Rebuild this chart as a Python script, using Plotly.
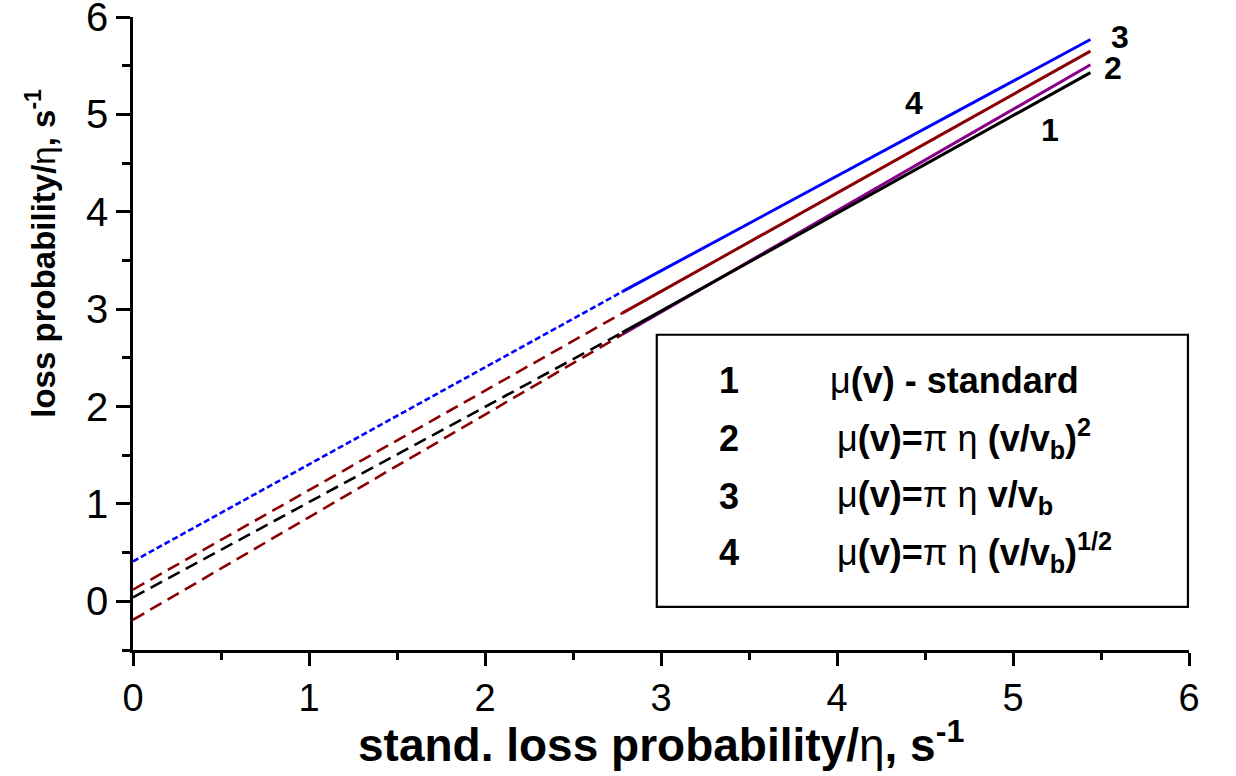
import plotly.graph_objects as go

# ---------------- data ----------------
# dashed / dotted extrapolations from x = 0 to the start of the computed curves
ext_x = [0.0, 2.78]
ext1_y = [0.04, 2.76]    # curve 1 (black dashed)
ext2_y = [-0.19, 2.74]   # curve 2 (dark red dashed, lower)
ext3_y = [0.12, 2.96]    # curve 3 (dark red dashed, upper)
ext4_y = [0.41, 3.18]    # curve 4 (blue dotted)

# computed (solid) curves
sol_x = [2.78, 5.44]
sol1_y = [2.76, 5.43]    # 1 standard (black)
sol2_y = [2.74, 5.51]    # 2 (purple)
sol3_y = [2.96, 5.65]    # 3 (dark red)
sol4_y = [3.18, 5.77]    # 4 (blue)

curve_labels = ["1", "2", "3", "4"]
curve_label_x = [5.21, 5.57, 5.61, 4.44]
curve_label_y = [4.84, 5.48, 5.80, 5.12]

legend_numbers = ["1", "2", "3", "4"]
legend_texts = [
    "<span style='font-weight:normal'>μ</span>(v) - standard",
    "<span style='font-weight:normal'>μ</span>(v)=<span style='font-weight:normal'>π η</span> (v/v<sub>b</sub>)<sup>2</sup>",
    "<span style='font-weight:normal'>μ</span>(v)=<span style='font-weight:normal'>π η</span> v/v<sub>b</sub>",
    "<span style='font-weight:normal'>μ</span>(v)=<span style='font-weight:normal'>π η</span> (v/v<sub>b</sub>)<sup>1/2</sup>",
]

x_ticks = [0, 1, 2, 3, 4, 5, 6]
y_ticks = [0, 1, 2, 3, 4, 5, 6]

x_title = "stand. loss probability/<span style='font-weight:normal'>η</span>, s<sup>-1</sup>"
y_title = "loss probability/<span style='font-weight:normal'>η</span>, s<sup>-1</sup>"

# ---------------- styles ----------------
FONT = "Liberation Sans, Arial, Helvetica, sans-serif"
BLACK = "#000000"
MAROON = "#8B0000"
PURPLE = "#8B008B"
BLUE = "#0000FF"
DASH = "13px,7px"
DOT = "6px,3px"

fig = go.Figure()

# extrapolations
fig.add_trace(go.Scatter(x=ext_x, y=ext2_y, mode="lines",
                         line=dict(color=MAROON, width=2.6, dash=DASH), showlegend=False))
fig.add_trace(go.Scatter(x=ext_x, y=ext1_y, mode="lines",
                         line=dict(color=BLACK, width=2.6, dash=DASH), showlegend=False))
fig.add_trace(go.Scatter(x=ext_x, y=ext3_y, mode="lines",
                         line=dict(color=MAROON, width=2.6, dash=DASH), showlegend=False))
fig.add_trace(go.Scatter(x=ext_x, y=ext4_y, mode="lines",
                         line=dict(color=BLUE, width=2.6, dash=DOT), showlegend=False))

# solid curves
fig.add_trace(go.Scatter(x=sol_x, y=sol2_y, mode="lines",
                         line=dict(color=PURPLE, width=3), showlegend=False))
fig.add_trace(go.Scatter(x=sol_x, y=sol1_y, mode="lines",
                         line=dict(color=BLACK, width=3), showlegend=False))
fig.add_trace(go.Scatter(x=sol_x, y=sol3_y, mode="lines",
                         line=dict(color=MAROON, width=3), showlegend=False))
fig.add_trace(go.Scatter(x=sol_x, y=sol4_y, mode="lines",
                         line=dict(color=BLUE, width=3), showlegend=False))

annotations = []
# curve number labels
for lab, lx, ly in zip(curve_labels, curve_label_x, curve_label_y):
    annotations.append(dict(x=lx, y=ly, xref="x", yref="y", text=f"<b>{lab}</b>",
                            showarrow=False, xanchor="center", yanchor="middle",
                            font=dict(family=FONT, size=32, color=BLACK)))

# legend box contents
row_y = [0.4252, 0.3335, 0.2418, 0.1533]
text_x = [0.658, 0.6645, 0.6645, 0.6645]
for num, txt, ry, tx in zip(legend_numbers, legend_texts, row_y, text_x):
    annotations.append(dict(x=0.5644, y=ry, xref="paper", yref="paper", text=f"<b>{num}</b>",
                            showarrow=False, xanchor="center", yanchor="middle",
                            font=dict(family=FONT, size=36, color=BLACK)))
    annotations.append(dict(x=tx, y=ry, xref="paper", yref="paper", text=f"<b>{txt}</b>",
                            showarrow=False, xanchor="left", yanchor="middle",
                            font=dict(family=FONT, size=36, color=BLACK)))

# axis titles
annotations.append(dict(x=0.5, y=-0.146, xref="paper", yref="paper", text=f"<b>{x_title}</b>",
                        showarrow=False, xanchor="center", yanchor="middle",
                        font=dict(family=FONT, size=46, color=BLACK)))
annotations.append(dict(x=-0.0871, y=3.57, xref="paper", yref="y", text=f"<b>{y_title}</b>",
                        showarrow=False, xanchor="center", yanchor="middle", textangle=-90,
                        font=dict(family=FONT, size=33, color=BLACK)))

fig.update_layout(
    width=1236, height=776,
    margin=dict(l=133, r=47, t=17, b=126, pad=0, autoexpand=False),
    paper_bgcolor="white", plot_bgcolor="white",
    showlegend=False,
    annotations=annotations,
    shapes=[dict(type="rect", xref="paper", yref="paper",
                 x0=0.496, x1=0.999, y0=0.068, y1=0.498,
                 line=dict(color=BLACK, width=2.2), fillcolor="rgba(0,0,0,0)")],
    xaxis=dict(range=[0, 6], tickvals=x_ticks, ticktext=[str(v) for v in x_ticks],
               automargin=False,
               showgrid=False, zeroline=False, showline=True, linecolor=BLACK, linewidth=2.5,
               ticks="outside", ticklen=13, tickwidth=2.5, tickcolor=BLACK,
               ticklabeloverflow="allow",
               tickfont=dict(family=FONT, size=38, color=BLACK),
               minor=dict(dtick=0.5, tick0=0, ticks="outside", ticklen=7, tickwidth=2.5,
                          tickcolor=BLACK, showgrid=False)),
    yaxis=dict(range=[-0.5, 6.001], tickvals=y_ticks, ticktext=[str(v) for v in y_ticks],
               automargin=False,
               showgrid=False, zeroline=False, showline=True, linecolor=BLACK, linewidth=2.5,
               ticks="outside", ticklen=14, tickwidth=2.5, tickcolor=BLACK,
               ticklabeloverflow="allow",
               tickfont=dict(family=FONT, size=40, color=BLACK),
               minor=dict(dtick=0.5, tick0=0, ticks="outside", ticklen=8, tickwidth=2.5,
                          tickcolor=BLACK, showgrid=False)),
)

fig.write_html("out.html")
